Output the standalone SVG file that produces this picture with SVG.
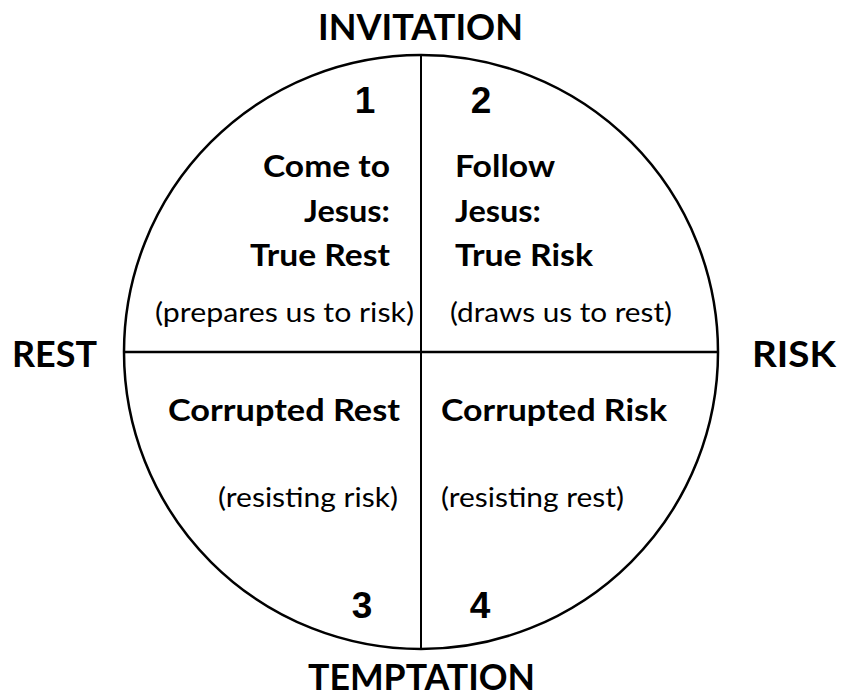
<svg xmlns="http://www.w3.org/2000/svg" width="844" height="698" viewBox="0 0 844 698">
<style>
.b{font-family:Lato,"Open Sans","Liberation Sans",sans-serif;font-weight:bold;fill:#000}
.r{font-family:Lato,"Open Sans","Liberation Sans",sans-serif;font-weight:normal;fill:#000}
.n{font-family:"Liberation Sans",Arial,sans-serif;font-weight:bold;fill:#000;font-size:37px}
.ax{font-size:36px}
.t{font-size:30px}
.p{font-size:26px}
</style>
<rect width="844" height="698" fill="#fff"/>
<g id="circle">
<circle cx="421" cy="352" r="297" fill="none" stroke="#000" stroke-width="2.5"/>
</g>
<g id="connectors">
<line x1="421" y1="55" x2="421" y2="649" stroke="#000" stroke-width="2"/>
<line x1="124" y1="352" x2="718" y2="352" stroke="#000" stroke-width="2.5"/>
</g>
<g id="axis-labels">
<text class="b ax" x="318" y="40" textLength="205" lengthAdjust="spacingAndGlyphs">INVITATION</text>
<text class="b ax" x="12" y="367" textLength="85" lengthAdjust="spacingAndGlyphs">REST</text>
<text class="b ax" x="752" y="367" textLength="84" lengthAdjust="spacingAndGlyphs">RISK</text>
<text class="b ax" x="308" y="690" textLength="227" lengthAdjust="spacingAndGlyphs">TEMPTATION</text>
</g>
<g id="q1">
<text class="n" x="365" y="113" text-anchor="middle">1</text>
<text class="b t" x="263" y="177" textLength="127" lengthAdjust="spacingAndGlyphs">Come to</text>
<text class="b t" x="304" y="222" textLength="86" lengthAdjust="spacingAndGlyphs">Jesus:</text>
<text class="b t" x="250" y="266" textLength="140" lengthAdjust="spacingAndGlyphs">True Rest</text>
<text class="r p" x="155" y="322" textLength="259" lengthAdjust="spacingAndGlyphs">(prepares us to risk)</text>
</g>
<g id="q2">
<text class="n" x="481" y="113" text-anchor="middle">2</text>
<text class="b t" x="455" y="177" textLength="100" lengthAdjust="spacingAndGlyphs">Follow</text>
<text class="b t" x="455" y="222" textLength="86" lengthAdjust="spacingAndGlyphs">Jesus:</text>
<text class="b t" x="455" y="266" textLength="138" lengthAdjust="spacingAndGlyphs">True Risk</text>
<text class="r p" x="450" y="322" textLength="222" lengthAdjust="spacingAndGlyphs">(draws us to rest)</text>
</g>
<g id="q3">
<text class="b t" x="168" y="421" textLength="232" lengthAdjust="spacingAndGlyphs">Corrupted Rest</text>
<text class="r p" x="218" y="507" textLength="180" lengthAdjust="spacingAndGlyphs">(resisting risk)</text>
<text class="n" x="362" y="618" text-anchor="middle">3</text>
</g>
<g id="q4">
<text class="b t" x="441" y="421" textLength="226" lengthAdjust="spacingAndGlyphs">Corrupted Risk</text>
<text class="r p" x="441" y="507" textLength="183" lengthAdjust="spacingAndGlyphs">(resisting rest)</text>
<text class="n" x="480" y="618" text-anchor="middle">4</text>
</g>
</svg>
